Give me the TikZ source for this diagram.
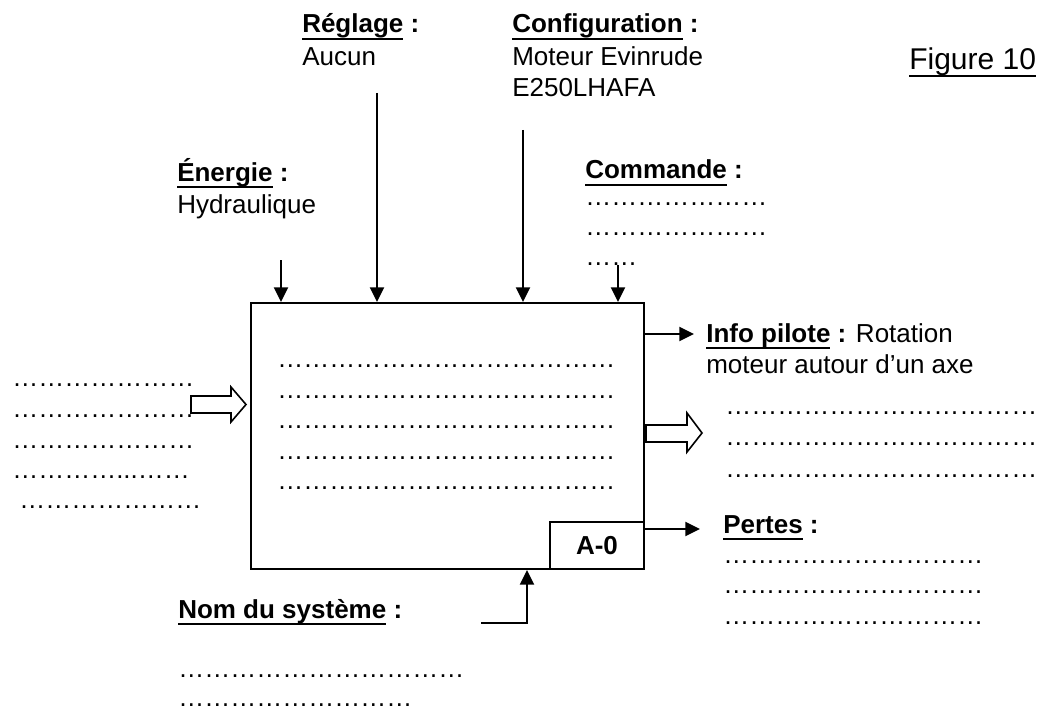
\documentclass[tikz,border=0pt]{standalone}
\usepackage{fontspec}
\setmainfont{Liberation Sans}
\usetikzlibrary{arrows.meta}

\newsavebox{\soulbox}
\newcommand{\souligne}[1]{\sbox{\soulbox}{#1}\rlap{\rule[-5.5pt]{\wd\soulbox}{2pt}}\usebox{\soulbox}}
\newcommand{\titre}[1]{\textbf{\souligne{#1} :}}
\newcommand{\pts}[1]{\foreach \k in {1,...,#1}{…}}

\tikzset{
  fleche/.style={line width=1.5pt, -{Triangle[length=11pt,width=10.5pt]}},
  texte/.style={anchor=base west, inner sep=0pt, font=\fontsize{19.5}{23}\selectfont},
  creuse/.style={line width=1.2pt, line join=miter}
}

\begin{document}
\begin{tikzpicture}[x=0.75pt,y=0.75pt,yscale=-1,xscale=1]
\useasboundingbox (0,0) rectangle (1045,706);

%Shape: Rectangle [id:sys]
\draw (250,302) node (sys) [anchor=north west, draw, line width=1.5pt, inner sep=0pt, minimum width={393*0.75pt}, minimum height={266*0.75pt}] {};
%Shape: Rectangle [id:a0]
\draw (sys.south east) node (a0) [anchor=south east, draw, line width=1.5pt, inner sep=0pt, minimum width={94*0.75pt}, minimum height={47*0.75pt}, font=\bfseries\fontsize{19.5}{23}\selectfont] {A-0\hspace{4pt}};

% Top arrows
\coordinate (energie-in) at (281,260);
\coordinate (reglage-in) at (377,93);
\coordinate (config-in) at (523,130);
\coordinate (commande-in) at (618,265);
\draw [fleche] (energie-in) -- (energie-in |- sys.north);
\draw [fleche] (reglage-in) -- (reglage-in |- sys.north);
\draw [fleche] (config-in) -- (config-in |- sys.north);
\draw [fleche] (commande-in) -- (commande-in |- sys.north);

% Right arrows
\coordinate (pilote-out) at (694,334);
\coordinate (pertes-out) at (700,529);
\draw [fleche] (pilote-out -| sys.east) -- (pilote-out);
\draw [fleche] (pertes-out -| a0.east) -- (pertes-out);

% Bottom arrow
\coordinate (nom-in) at (481,623);
\coordinate (nom-coin) at (527,623);
\draw [fleche] (nom-in) -- (nom-coin) -- (nom-coin |- sys.south);

%Shape: Right Arrow [id:matiere-in]
\draw [creuse] (191,396) -- (231,396) -- (231,387) -- (246,404.5) -- (231,422) -- (231,413) -- (191,413) -- cycle;
%Shape: Right Arrow [id:matiere-out]
\draw [creuse] (646,425) -- (687,425) -- (687,413) -- (702,433) -- (687,452) -- (687,442) -- (646,442) -- cycle;

% Text Node
\draw (909,70) node (fig) [anchor=base west][inner sep=0pt] {\fontsize{22.5}{26}\selectfont\souligne{Figure 10}};
% Text Node
\draw (302,33) node (reglage) [texte] {\titre{Réglage}};
\draw (302,66) node (reglage-val) [texte] {Aucun};
% Text Node
\draw (512,33) node (config) [texte] {\titre{Configuration}};
\draw (512,66) node (config-val1) [texte] {Moteur Evinrude};
\draw (512,97) node (config-val2) [texte] {E250LHAFA};
% Text Node
\draw (177,181) node (energie) [texte] {\titre{Énergie}};
\draw (177,213) node (energie-val) [texte] {Hydraulique};
% Text Node
\draw (585,179) node (commande) [texte] {\titre{Commande}};
\draw (585,205) node (commande-d1) [texte] {\pts{7}};
\draw (585,235) node (commande-d2) [texte] {\pts{7}};
\draw (585,265) node (commande-d3) [texte] {\pts{2}};
% Text Node
\draw (706,342) node (pilote) [texte] {\titre{Info pilote} Rotation};
\draw (706,373) node (pilote-val) [texte] {moteur autour d’un axe};
% Text Node
\draw (12,386) node (entree-d1) [texte] {\pts{7}};
\draw (12,417) node (entree-d2) [texte] {\pts{7}};
\draw (12,448) node (entree-d3) [texte] {\pts{7}};
\draw (12,478) node (entree-d4) [texte] {…………...……};
\draw (12,508) node (entree-d5) [texte] {\ \pts{7}};
% Text Node
\draw (277,367) node (fonction-d1) [texte] {\pts{13}};
\draw (277,398) node (fonction-d2) [texte] {\pts{13}};
\draw (277,428) node (fonction-d3) [texte] {\pts{13}};
\draw (277,459) node (fonction-d4) [texte] {\pts{13}};
\draw (277,489) node (fonction-d5) [texte] {\pts{13}};
% Text Node
\draw (725,414) node (sortie-d1) [texte] {\pts{12}};
\draw (725,445) node (sortie-d2) [texte] {\pts{12}};
\draw (725,477) node (sortie-d3) [texte] {\pts{12}};
% Text Node
\draw (723,533) node (pertes) [texte] {\titre{Pertes}};
\draw (723,563) node (pertes-d1) [texte] {\pts{10}};
\draw (723,593) node (pertes-d2) [texte] {\pts{10}};
\draw (723,624) node (pertes-d3) [texte] {\pts{10}};
% Text Node
\draw (178,618) node (nom) [texte] {\titre{Nom du système}};
\draw (178,677) node (nom-d1) [texte] {\pts{11}};
\draw (178,706) node (nom-d2) [texte] {\pts{9}};

\end{tikzpicture}
\end{document}
